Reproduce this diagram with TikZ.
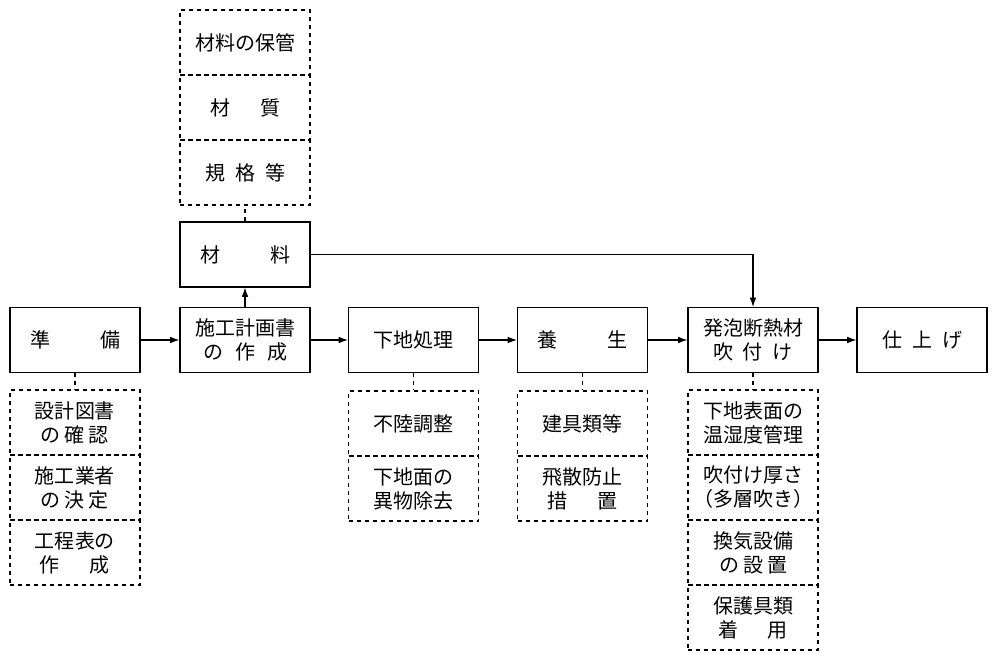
\documentclass[tikz,border=0pt]{standalone}
\usepackage{fontspec}
\setmainfont{Noto Sans CJK JP}
\usetikzlibrary{arrows.meta}
\tikzset{
 sbox/.style={draw,thick,minimum width=97.5pt,minimum height=48.75pt,inner sep=0pt,align=center,font=\fontsize{15}{18}\selectfont},
 dbox/.style={draw,thick,dashed,minimum width=97.5pt,minimum height=48.75pt,inner sep=0pt,align=center,font=\fontsize{15}{18}\selectfont},
 arr/.style={thick,-{Latex[length=7pt,width=5pt]}},
 dl/.style={thick,dashed}
}
\begin{document}
\begin{tikzpicture}[x=0.75pt,y=-0.75pt]
\useasboundingbox (0,0) rectangle (1000,660);
% main row
\node[sbox] (a) at (75,340) {準\hspace{2.5em}備};
\node[sbox] (b) at (245,340) {施工計画書\\の\hspace{0.6em}作\hspace{0.6em}成};
\node[sbox] (c) at (413.5,340) {下地処理};
\node[sbox] (d) at (582.5,340) {養\hspace{2.5em}生};
\node[sbox] (e) at (753,340) {発泡断熱材\\吹\hspace{0.5em}付\hspace{0.5em}け};
\node[sbox] (f) at (922,340) {仕\hspace{0.5em}上\hspace{0.5em}げ};
\node[sbox] (m) at (245,254.5) {材\hspace{2.5em}料};
% top dashed
\node[dbox] (t1) at (245,42.5) {材料の保管};
\node[dbox] (t2) at (245,107.5) {材\hspace{1.5em}質};
\node[dbox] (t3) at (245,172.5) {規\hspace{0.5em}格\hspace{0.5em}等};
% below a
\node[dbox] (a1) at (75,422.5) {設計図書\\の\hspace{0.2em}確\hspace{0.2em}認};
\node[dbox] (a2) at (75,487.5) {施工業者\\の\hspace{0.2em}決\hspace{0.2em}定};
\node[dbox] (a3) at (75,552.5) {工程表の\\作\hspace{1.5em}成};
% below c
\node[dbox] (c1) at (413.5,423.5) {不陸調整};
\node[dbox] (c2) at (413.5,488.5) {下地面の\\異物除去};
% below d
\node[dbox] (d1) at (582.5,423.5) {建具類等};
\node[dbox] (d2) at (582.5,488.5) {飛散防止\\措\hspace{1.5em}置};
% below e
\node[dbox] (e1) at (753,422.5) {下地表面の\\温湿度管理};
\node[dbox] (e2) at (753,487.5) {吹付け厚さ\\（多層吹き）};
\node[dbox] (e3) at (753,552.5) {換気設備\\の\hspace{0.2em}設\hspace{0.2em}置};
\node[dbox] (e4) at (753,617.5) {保護具類\\着\hspace{1.5em}用};
% arrows
\draw[arr] (a) -- (b);
\draw[arr] (b) -- (c);
\draw[arr] (c) -- (d);
\draw[arr] (d) -- (e);
\draw[arr] (e) -- (f);
\draw[arr] (b) -- (m);
\draw[arr] (m.east) -| (e.north);
% dashed connectors
\draw[dl] (m.north) -- (t3.south);
\draw[dl] (a.south) -- (a1.north);
\draw[dl] (c.south) -- (c1.north);
\draw[dl] (d.south) -- (d1.north);
\draw[dl] (e.south) -- (e1.north);
\end{tikzpicture}
\end{document}
